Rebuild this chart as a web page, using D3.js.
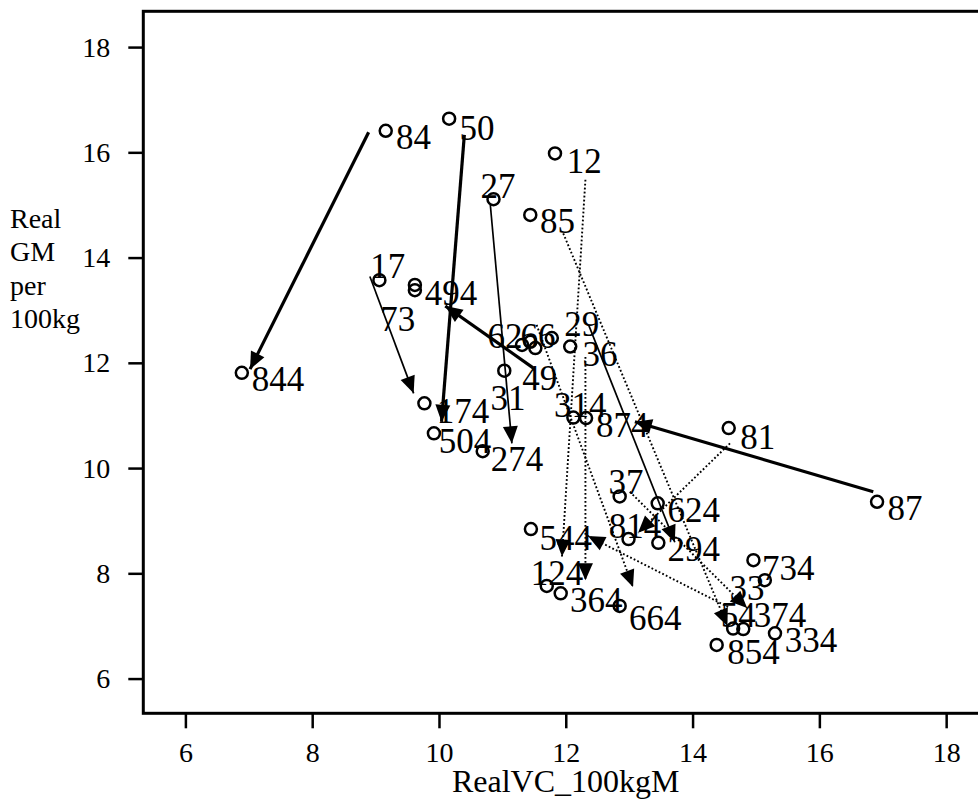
<!DOCTYPE html>
<html>
<head>
<meta charset="utf-8">
<script src="https://cdn.jsdelivr.net/npm/d3@7"></script>
<style>
  body { margin: 0; background: #fff; }
  svg { display: block; }
  text { font-family: "Liberation Serif", "Times New Roman", serif; fill: #000; }
</style>
</head>
<body>
<div class="chart"></div>
<script>
// farm / year labels (2-digit = year 1, 3-digit = year 4)
const farmLabels = ['84', '50', '12', '27', '85', '17', '494', '73', '844', '62', '66', '49', '29', '36', '31',
    '174', '504', '274', '314', '874', '81', '87', '37', '624', '814', '294', '544', '124', '364', '664',
    '734', '33', '54', '374', '334', '854'];
const realVC = [9.16, 10.16, 11.83, 10.86, 11.44, 9.06, 9.62, 9.62, 6.89, 11.31, 11.44, 11.52, 11.78, 12.07, 11.03,
    9.77, 9.92, 10.69, 12.12, 12.32, 14.57, 16.91, 12.85, 13.45, 12.99, 13.46, 11.45, 11.70, 11.92, 12.85,
    14.96, 15.14, 14.64, 14.80, 15.30, 14.38];
const realGM = [16.41, 16.64, 15.98, 15.11, 14.81, 13.57, 13.48, 13.38, 11.81, 12.34, 12.40, 12.28, 12.47, 12.31, 11.85,
    11.23, 10.66, 10.32, 10.96, 10.95, 10.76, 9.36, 9.46, 9.33, 8.65, 8.58, 8.84, 7.76, 7.62, 7.38,
    8.25, 7.87, 6.95, 6.94, 6.86, 6.64];
// where each label text sits (data units)
const labelX = [9.60, 10.60, 12.29, 10.93, 11.87, 9.19, 10.19, 9.35, 7.46, 11.04, 11.56, 11.59, 12.25, 12.54, 11.09,
    10.38, 10.41, 11.23, 12.23, 12.89, 15.03, 17.35, 12.95, 14.02, 13.09, 14.02, 12.00, 11.86, 12.48, 13.41,
    15.51, 14.86, 14.72, 15.38, 15.87, 14.96];
const labelY = [16.28, 16.46, 15.83, 15.36, 14.70, 13.83, 13.33, 12.83, 11.69, 12.51, 12.51, 11.71, 12.74, 12.17, 11.33,
    11.08, 10.51, 10.17, 11.20, 10.82, 10.59, 9.24, 9.73, 9.20, 8.90, 8.46, 8.67, 8.01, 7.49, 7.14,
    8.10, 7.72, 7.20, 7.20, 6.73, 6.51];

// year 1 -> year 4 movement arrows
const arrowFarm = ['84', '50', '49', '87', '27', '17', '29', '12', '36', '66', '85', '81', '54', '37'];
const arrowX0 = [8.89, 10.40, 11.49, 16.85, 10.81, 8.91, 12.36, 12.31, 12.31, 11.54, 11.96, 14.59, 14.56, 13.01];
const arrowY0 = [16.38, 16.33, 11.90, 9.55, 15.00, 13.64, 12.72, 15.48, 12.11, 12.72, 14.46, 10.47, 7.36, 9.55];
const arrowX1 = [7.02, 10.04, 10.10, 13.09, 11.15, 9.60, 13.72, 11.94, 12.31, 13.06, 14.55, 13.14, 12.35, 14.86];
const arrowY1 = [11.88, 10.88, 13.08, 10.88, 10.47, 11.42, 8.59, 8.32, 7.87, 7.74, 7.00, 8.77, 8.71, 7.34];
const arrowGroup = ['major', 'major', 'major', 'major', 'medium', 'medium', 'medium',
    'minor', 'minor', 'minor', 'minor', 'minor', 'minor', 'minor'];

const xTicks = [6, 8, 10, 12, 14, 16, 18];
const yTicks = [6, 8, 10, 12, 14, 16, 18];
const xTitle = 'RealVC_100kgM';
const yTitle = ['Real', 'GM', 'per', '100kg'];

const width = 978, height = 804;
const plot = { left: 143.3, right: 988, top: 11.3, bottom: 713.3 };

const svg = d3.select('div.chart').append('svg').attr('width', width).attr('height', height);

const x = d3.scaleLinear().domain([5.336, 18.66]).range([plot.left, plot.right]);
const y = d3.scaleLinear().domain([5.34, 18.68]).range([plot.bottom, plot.top]);

// frame (right side runs off the page like the original)
svg.append('rect')
    .attr('x', plot.left).attr('y', plot.top)
    .attr('width', plot.right - plot.left).attr('height', plot.bottom - plot.top)
    .attr('fill', 'none').attr('stroke', '#000').attr('stroke-width', 3);

const xAxis = d3.axisBottom(x).tickValues(xTicks).tickSize(15).tickPadding(14).tickFormat(d3.format('d'));
svg.append('g').attr('transform', `translate(0, ${plot.bottom})`).call(xAxis)
    .call(g => g.select('.domain').remove())
    .call(g => g.selectAll('line').attr('stroke-width', 2.5))
    .call(g => g.selectAll('text').attr('font-size', 28).attr('font-family', '"Liberation Serif", serif'));

const yAxis = d3.axisLeft(y).tickValues(yTicks).tickSize(15).tickPadding(18).tickFormat(d3.format('d'));
svg.append('g').attr('transform', `translate(${plot.left}, 0)`).call(yAxis)
    .call(g => g.select('.domain').remove())
    .call(g => g.selectAll('line').attr('stroke-width', 2.5))
    .call(g => g.selectAll('text').attr('font-size', 28).attr('font-family', '"Liberation Serif", serif'));

svg.append('text')
    .attr('x', (plot.left + plot.right) / 2).attr('y', 792)
    .attr('text-anchor', 'middle').attr('font-size', 32)
    .text(xTitle);

svg.append('g').selectAll('text')
    .data(yTitle).enter().append('text')
    .attr('x', 10).attr('y', (d, i) => 228 + i * 33.4)
    .attr('font-size', 28)
    .text(d => d);

// arrows
const lineStyle = {
    major: { w: 3.2, dash: null },
    medium: { w: 1.7, dash: null },
    minor: { w: 1.9, dash: '1.8 2.2' }
};
const arrows = arrowFarm.map((farm, i) => ({
    farm, x0: arrowX0[i], y0: arrowY0[i], x1: arrowX1[i], y1: arrowY1[i], group: arrowGroup[i]
}));
const headLen = 17, headHalf = 7.5;

const arrowG = svg.append('g').classed('arrows', true);
arrowG.selectAll('line')
    .data(arrows).enter().append('line')
    .attr('x1', d => x(d.x0)).attr('y1', d => y(d.y0))
    .attr('x2', d => x(d.x1)).attr('y2', d => y(d.y1))
    .attr('stroke', '#000')
    .attr('stroke-width', d => lineStyle[d.group].w)
    .attr('stroke-dasharray', d => lineStyle[d.group].dash);

arrowG.selectAll('path')
    .data(arrows).enter().append('path')
    .attr('d', d => {
        const tx = x(d.x1), ty = y(d.y1);
        const ang = Math.atan2(ty - y(d.y0), tx - x(d.x0));
        const bx = tx - headLen * Math.cos(ang), by = ty - headLen * Math.sin(ang);
        const px = -Math.sin(ang) * headHalf, py = Math.cos(ang) * headHalf;
        return `M${tx},${ty}L${bx + px},${by + py}L${bx - px},${by - py}Z`;
    })
    .attr('fill', '#000');

// points
const points = farmLabels.map((label, i) => ({ label, vc: realVC[i], gm: realGM[i], lx: labelX[i], ly: labelY[i] }));

svg.append('g').selectAll('circle')
    .data(points).enter().append('circle')
    .attr('cx', d => x(d.vc)).attr('cy', d => y(d.gm))
    .attr('r', 6)
    .attr('fill', 'none').attr('stroke', '#000').attr('stroke-width', 2.5);

svg.append('g').selectAll('text')
    .data(points).enter().append('text')
    .attr('x', d => x(d.lx)).attr('y', d => y(d.ly))
    .attr('dy', '0.34em')
    .attr('text-anchor', 'middle')
    .attr('font-size', 35)
    .text(d => d.label);
</script>
</body>
</html>
